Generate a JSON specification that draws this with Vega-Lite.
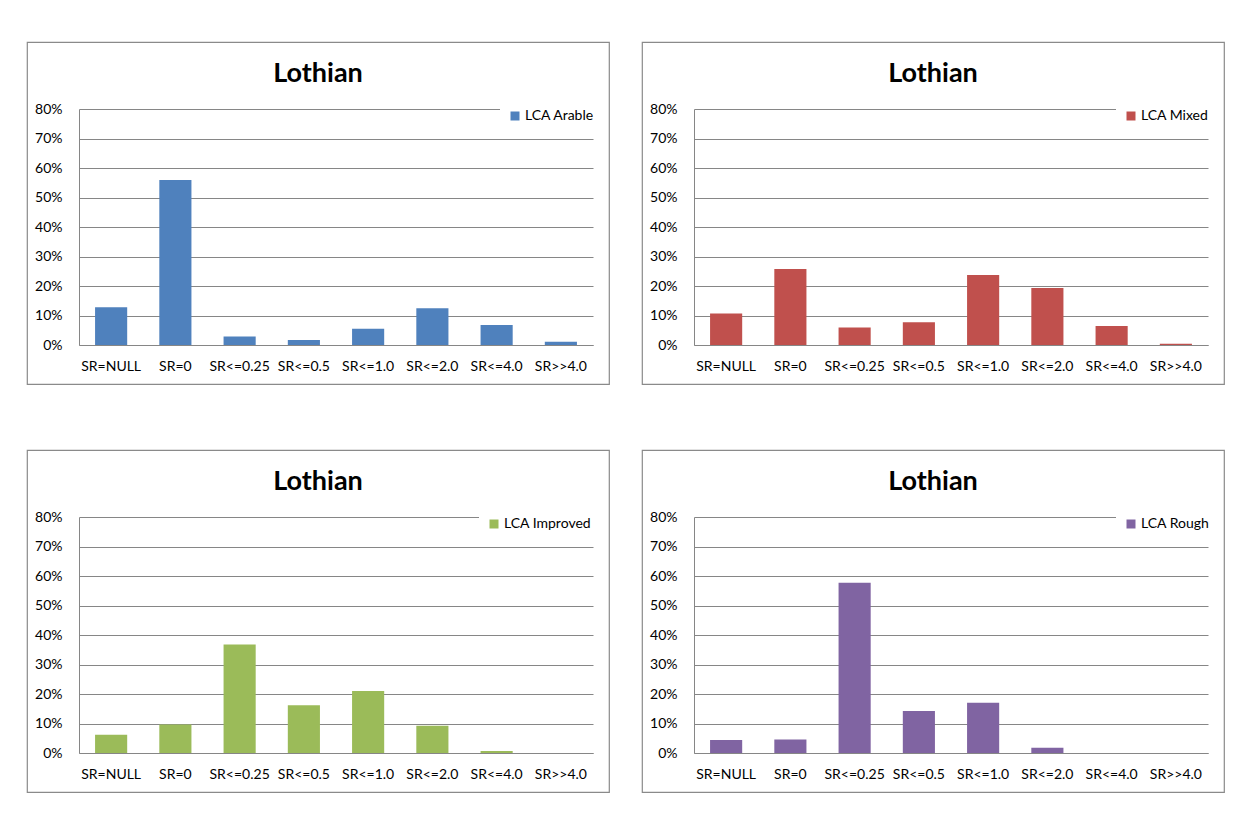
{
  "$schema": "https://vega.github.io/schema/vega-lite/v6.json",
  "background": "white",
  "padding": {"left": 26, "top": 41, "right": 0, "bottom": 0},
  "bounds": "flush",
  "columns": 2,
  "spacing": {"row": 66, "column": 33},
  "datasets": {
    "lothian": [
      {"landuse": "LCA Arable", "stocking": "SR=NULL", "share": 0.128},
      {"landuse": "LCA Arable", "stocking": "SR=0", "share": 0.559},
      {"landuse": "LCA Arable", "stocking": "SR<=0.25", "share": 0.029},
      {"landuse": "LCA Arable", "stocking": "SR<=0.5", "share": 0.017},
      {"landuse": "LCA Arable", "stocking": "SR<=1.0", "share": 0.055},
      {"landuse": "LCA Arable", "stocking": "SR<=2.0", "share": 0.125},
      {"landuse": "LCA Arable", "stocking": "SR<=4.0", "share": 0.068},
      {"landuse": "LCA Arable", "stocking": "SR>>4.0", "share": 0.011},
      {"landuse": "LCA Mixed", "stocking": "SR=NULL", "share": 0.107},
      {"landuse": "LCA Mixed", "stocking": "SR=0", "share": 0.258},
      {"landuse": "LCA Mixed", "stocking": "SR<=0.25", "share": 0.059},
      {"landuse": "LCA Mixed", "stocking": "SR<=0.5", "share": 0.077},
      {"landuse": "LCA Mixed", "stocking": "SR<=1.0", "share": 0.237},
      {"landuse": "LCA Mixed", "stocking": "SR<=2.0", "share": 0.193},
      {"landuse": "LCA Mixed", "stocking": "SR<=4.0", "share": 0.064},
      {"landuse": "LCA Mixed", "stocking": "SR>>4.0", "share": 0.0045},
      {"landuse": "LCA Improved", "stocking": "SR=NULL", "share": 0.062},
      {"landuse": "LCA Improved", "stocking": "SR=0", "share": 0.097},
      {"landuse": "LCA Improved", "stocking": "SR<=0.25", "share": 0.368},
      {"landuse": "LCA Improved", "stocking": "SR<=0.5", "share": 0.162},
      {"landuse": "LCA Improved", "stocking": "SR<=1.0", "share": 0.21},
      {"landuse": "LCA Improved", "stocking": "SR<=2.0", "share": 0.092},
      {"landuse": "LCA Improved", "stocking": "SR<=4.0", "share": 0.007},
      {"landuse": "LCA Improved", "stocking": "SR>>4.0", "share": 0},
      {"landuse": "LCA Rough", "stocking": "SR=NULL", "share": 0.044},
      {"landuse": "LCA Rough", "stocking": "SR=0", "share": 0.046},
      {"landuse": "LCA Rough", "stocking": "SR<=0.25", "share": 0.577},
      {"landuse": "LCA Rough", "stocking": "SR<=0.5", "share": 0.142},
      {"landuse": "LCA Rough", "stocking": "SR<=1.0", "share": 0.17},
      {"landuse": "LCA Rough", "stocking": "SR<=2.0", "share": 0.018},
      {"landuse": "LCA Rough", "stocking": "SR<=4.0", "share": 0},
      {"landuse": "LCA Rough", "stocking": "SR>>4.0", "share": 0}
    ]
  },
  "resolve": {"scale": {"color": "independent"}, "legend": {"color": "independent"}},
  "concat": [
    {
      "width": 582, "height": 342,
      "view": {"stroke": "#8a8a8a", "strokeWidth": 1.2, "fill": "white"},
      "title": {"text": "Lothian", "anchor": "middle", "frame": "group", "offset": -67, "baseline": "alphabetic"},
      "data": {"name": "lothian"},
      "transform": [{"filter": "datum.landuse === 'LCA Arable'"}],
      "mark": {"type": "bar"},
      "encoding": {
        "x": {"field": "stocking", "type": "nominal", "sort": ["SR=NULL", "SR=0", "SR<=0.25", "SR<=0.5", "SR<=1.0", "SR<=2.0", "SR<=4.0", "SR>>4.0"],
              "scale": {"range": [52, 566], "paddingInner": 0.5, "paddingOuter": 0.25},
              "axis": {"title": null, "orient": "bottom", "offset": -39, "labelAngle": 0, "labelPadding": 14, "ticks": false, "grid": false}},
        "y": {"field": "share", "type": "quantitative",
              "scale": {"domain": [0, 0.8], "range": [303, 67], "nice": false},
              "axis": {"title": null, "orient": "left", "offset": -52, "format": ".0%", "values": [0, 0.1, 0.2, 0.3, 0.4, 0.5, 0.6, 0.7, 0.8], "labelPadding": 17, "ticks": false, "grid": true}},
        "color": {"field": "landuse", "type": "nominal", "scale": {"domain": ["LCA Arable"], "range": ["#4f81bd"]},
                  "legend": {"title": null, "orient": "none", "legendX": 473, "legendY": 59}}
      }
    },
    {
      "width": 582, "height": 342,
      "view": {"stroke": "#8a8a8a", "strokeWidth": 1.2, "fill": "white"},
      "title": {"text": "Lothian", "anchor": "middle", "frame": "group", "offset": -67, "baseline": "alphabetic"},
      "data": {"name": "lothian"},
      "transform": [{"filter": "datum.landuse === 'LCA Mixed'"}],
      "mark": {"type": "bar"},
      "encoding": {
        "x": {"field": "stocking", "type": "nominal", "sort": ["SR=NULL", "SR=0", "SR<=0.25", "SR<=0.5", "SR<=1.0", "SR<=2.0", "SR<=4.0", "SR>>4.0"],
              "scale": {"range": [52, 566], "paddingInner": 0.5, "paddingOuter": 0.25},
              "axis": {"title": null, "orient": "bottom", "offset": -39, "labelAngle": 0, "labelPadding": 14, "ticks": false, "grid": false}},
        "y": {"field": "share", "type": "quantitative",
              "scale": {"domain": [0, 0.8], "range": [303, 67], "nice": false},
              "axis": {"title": null, "orient": "left", "offset": -52, "format": ".0%", "values": [0, 0.1, 0.2, 0.3, 0.4, 0.5, 0.6, 0.7, 0.8], "labelPadding": 17, "ticks": false, "grid": true}},
        "color": {"field": "landuse", "type": "nominal", "scale": {"domain": ["LCA Mixed"], "range": ["#c0504d"]},
                  "legend": {"title": null, "orient": "none", "legendX": 474, "legendY": 59}}
      }
    },
    {
      "width": 582, "height": 342,
      "view": {"stroke": "#8a8a8a", "strokeWidth": 1.2, "fill": "white"},
      "title": {"text": "Lothian", "anchor": "middle", "frame": "group", "offset": -67, "baseline": "alphabetic"},
      "data": {"name": "lothian"},
      "transform": [{"filter": "datum.landuse === 'LCA Improved'"}],
      "mark": {"type": "bar"},
      "encoding": {
        "x": {"field": "stocking", "type": "nominal", "sort": ["SR=NULL", "SR=0", "SR<=0.25", "SR<=0.5", "SR<=1.0", "SR<=2.0", "SR<=4.0", "SR>>4.0"],
              "scale": {"range": [52, 566], "paddingInner": 0.5, "paddingOuter": 0.25},
              "axis": {"title": null, "orient": "bottom", "offset": -39, "labelAngle": 0, "labelPadding": 14, "ticks": false, "grid": false}},
        "y": {"field": "share", "type": "quantitative",
              "scale": {"domain": [0, 0.8], "range": [303, 67], "nice": false},
              "axis": {"title": null, "orient": "left", "offset": -52, "format": ".0%", "values": [0, 0.1, 0.2, 0.3, 0.4, 0.5, 0.6, 0.7, 0.8], "labelPadding": 17, "ticks": false, "grid": true}},
        "color": {"field": "landuse", "type": "nominal", "scale": {"domain": ["LCA Improved"], "range": ["#9bbb59"]},
                  "legend": {"title": null, "orient": "none", "legendX": 452, "legendY": 59}}
      }
    },
    {
      "width": 582, "height": 342,
      "view": {"stroke": "#8a8a8a", "strokeWidth": 1.2, "fill": "white"},
      "title": {"text": "Lothian", "anchor": "middle", "frame": "group", "offset": -67, "baseline": "alphabetic"},
      "data": {"name": "lothian"},
      "transform": [{"filter": "datum.landuse === 'LCA Rough'"}],
      "mark": {"type": "bar"},
      "encoding": {
        "x": {"field": "stocking", "type": "nominal", "sort": ["SR=NULL", "SR=0", "SR<=0.25", "SR<=0.5", "SR<=1.0", "SR<=2.0", "SR<=4.0", "SR>>4.0"],
              "scale": {"range": [52, 566], "paddingInner": 0.5, "paddingOuter": 0.25},
              "axis": {"title": null, "orient": "bottom", "offset": -39, "labelAngle": 0, "labelPadding": 14, "ticks": false, "grid": false}},
        "y": {"field": "share", "type": "quantitative",
              "scale": {"domain": [0, 0.8], "range": [303, 67], "nice": false},
              "axis": {"title": null, "orient": "left", "offset": -52, "format": ".0%", "values": [0, 0.1, 0.2, 0.3, 0.4, 0.5, 0.6, 0.7, 0.8], "labelPadding": 17, "ticks": false, "grid": true}},
        "color": {"field": "landuse", "type": "nominal", "scale": {"domain": ["LCA Rough"], "range": ["#8064a2"]},
                  "legend": {"title": null, "orient": "none", "legendX": 474, "legendY": 59}}
      }
    }
  ],
  "config": {
    "font": "Lato",
    "title": {"font": "Lato", "fontSize": 27, "fontWeight": "bold", "color": "black"},
    "axis": {"labelFont": "Lato", "labelFontSize": 14, "labelColor": "#000000", "domainColor": "#868686", "domainWidth": 1, "gridColor": "#868686", "gridWidth": 1, "labelOverlap": false},
    "legend": {"labelFont": "Lato", "labelFontSize": 14, "labelColor": "#000000", "symbolType": "square", "symbolSize": 81, "symbolStrokeWidth": 0, "labelOffset": 3, "padding": 8, "fillColor": "white"},
    "bar": {"strokeWidth": 0}
  }
}
